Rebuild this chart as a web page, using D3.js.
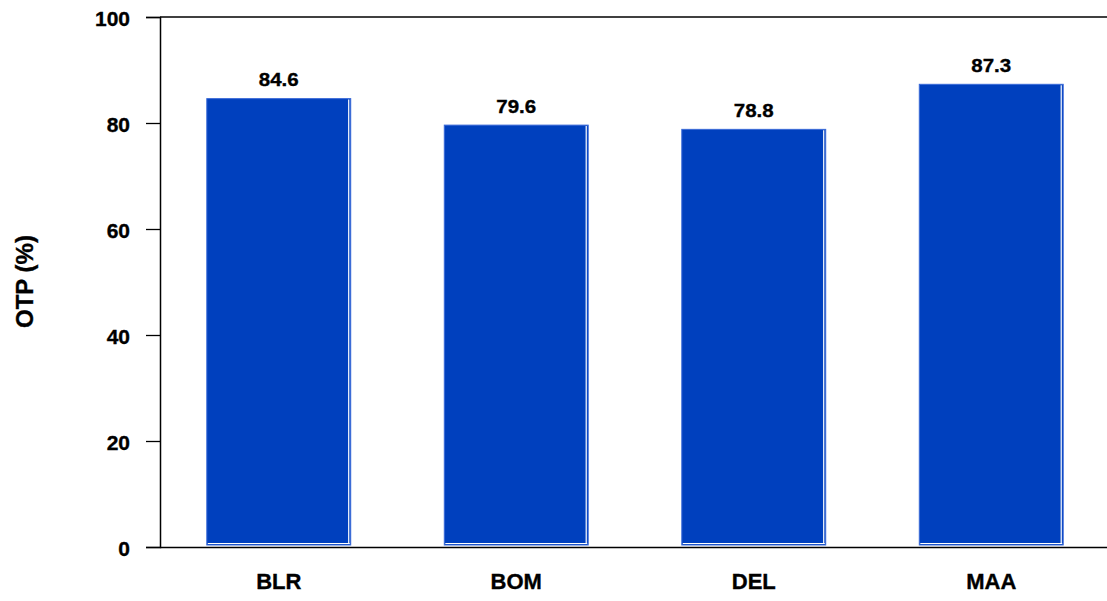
<!DOCTYPE html>
<html><head><meta charset="utf-8">
<script src="https://cdn.jsdelivr.net/npm/d3@7"></script>
<style>body{margin:0;background:#fff}svg{display:block}text{font-family:"Liberation Sans",Arial,sans-serif;font-weight:bold;fill:#000;stroke:#000;stroke-width:0.35px}</style>
</head><body><svg id="c" width="1107" height="601"></svg>
<script>
const categories = ["BLR","BOM","DEL","MAA"];
const values = [84.6,79.6,78.8,87.3];
const yTicks = [0,20,40,60,80,100];

const svg = d3.select("#c");
const x0 = 160, x1 = 1110, yTop = 17, yBot = 547;
const x = d3.scaleBand().domain(categories).range([x0,x1]).paddingInner(0.394).paddingOuter(0.197);
const y = d3.scaleLinear().domain([0,100]).range([yBot,yTop]);

// bars
const g = svg.append("g");
categories.forEach((c,i)=>{
  const bx = x(c), bw = x.bandwidth(), by = y(values[i]), bb = y(0)-2;
  g.append("rect").attr("x",bx).attr("y",by).attr("width",bw).attr("height",bb-by)
    .attr("fill","#0040BE").attr("stroke","#3a6ad8").attr("stroke-width",1);
  g.append("line").attr("x1",bx+bw-2).attr("x2",bx+bw-2).attr("y1",by+1).attr("y2",bb-1).attr("stroke","#fff").attr("stroke-width",1.2);
  g.append("line").attr("x1",bx+1).attr("x2",bx+bw-1).attr("y1",bb-1.5).attr("y2",bb-1.5).attr("stroke","#fff").attr("stroke-width",1.2);
  svg.append("text").attr("transform",`translate(${bx+bw/2},${by-12.5}) scale(1.08,1)`).attr("text-anchor","middle").attr("font-size",19).text(values[i].toFixed(1));
});

// frame top line
svg.append("line").attr("x1",x0).attr("x2",1107).attr("y1",yTop).attr("y2",yTop).attr("stroke","#000").attr("stroke-width",1.5);

// y axis
const ya = svg.append("g").attr("transform",`translate(${x0},0)`)
  .call(d3.axisLeft(y).tickValues(yTicks).tickSize(14).tickPadding(16).tickFormat(d3.format("d")));
ya.select(".domain").attr("stroke-width",1.5);
ya.selectAll("line").attr("stroke-width",1.3);
ya.selectAll("text").attr("font-size",21).attr("dy","0.42em").attr("font-family","Liberation Sans, Arial, sans-serif").attr("font-weight","bold");

// x axis
const xa = svg.append("g").attr("transform",`translate(0,${yBot})`)
  .call(d3.axisBottom(x).tickSize(0).tickPadding(26));
xa.select(".domain").attr("d",`M${x0},0.5H1107`).attr("stroke-width",1.5);
xa.selectAll("text").attr("font-size",22).attr("font-family","Liberation Sans, Arial, sans-serif").attr("font-weight","bold");

// y title
svg.append("text").attr("transform","translate(33,281.5) rotate(-90)").attr("text-anchor","middle").attr("font-size",24).text("OTP (%)");
</script></body></html>
